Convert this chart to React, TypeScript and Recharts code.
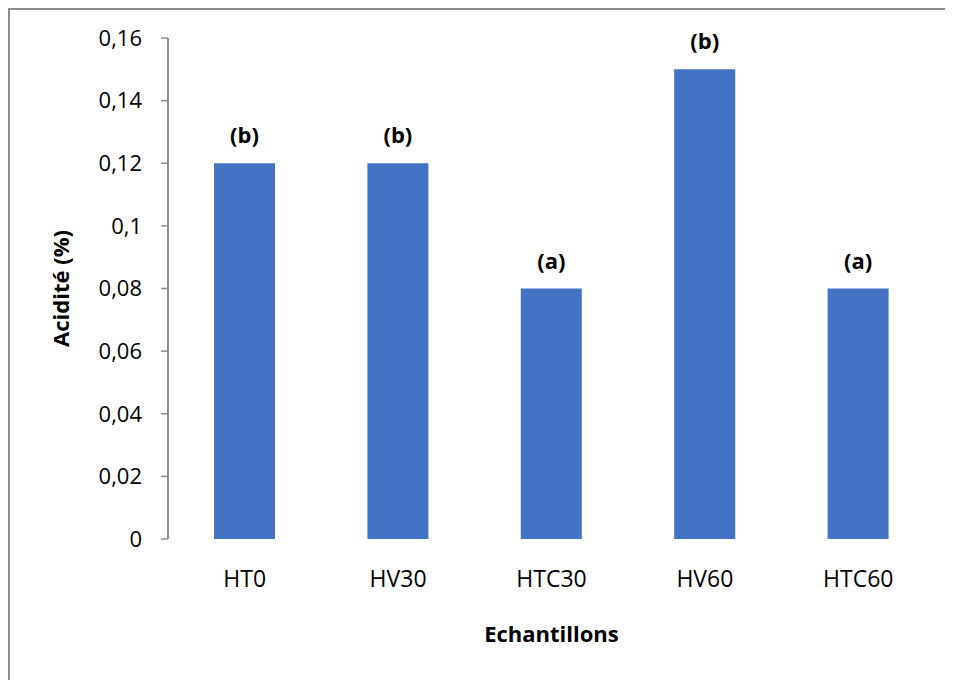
import React from "react";
import {
  BarChart,
  Bar,
  XAxis,
  YAxis,
  LabelList,
  Label,
} from "recharts";

const samples = ["HT0", "HV30", "HTC30", "HV60", "HTC60"];
const acidity = [0.12, 0.12, 0.08, 0.15, 0.08];
const groups = ["(b)", "(b)", "(a)", "(b)", "(a)"];
const yTicks = [0, 0.02, 0.04, 0.06, 0.08, 0.1, 0.12, 0.14, 0.16];
const bandEdges = [0, 1, 2, 3, 4, 5];

const data = samples.map((name, i) => ({
  name,
  acidity: acidity[i],
  group: groups[i],
}));

const font = "'Open Sans', 'Noto Sans', sans-serif";
const axisColor = "#8c8c8c";
const fmt = (v: number) => String(v).replace(".", ",");

const YTitle = (props: any) => {
  const { viewBox } = props;
  const cy = viewBox.y + viewBox.height / 2;
  const cx = 50;
  return (
    <text
      x={cx}
      y={cy}
      transform={`rotate(-90, ${cx}, ${cy})`}
      textAnchor="middle"
      dominantBaseline="central"
      fontFamily={font}
      fontWeight="bold"
      fontSize={22}
      fill="#000"
    >
      Acidité (%)
    </text>
  );
};

const XTitle = (props: any) => {
  const { viewBox } = props;
  const cx = viewBox.x + viewBox.width / 2;
  return (
    <text
      x={cx}
      y={viewBox.y + 103}
      textAnchor="middle"
      fontFamily={font}
      fontWeight="bold"
      fontSize={22}
      fill="#000"
    >
      Echantillons
    </text>
  );
};

export default function App() {
  return (
    <>
      <style>{`html,body{overflow:hidden;}`}</style>
      <div
        style={{
          width: 955,
          height: 690,
          border: `2px solid ${axisColor}`,
          background: "#fff",
        }}
      >
        <BarChart
          width={943}
          height={670}
          data={data}
          margin={{ top: 28, right: 18, left: 0, bottom: 0 }}
        >
          <XAxis
            xAxisId="edges"
            type="number"
            domain={[0, 5]}
            ticks={bandEdges}
            height={0}
            tick={false}
            tickSize={8}
            axisLine={{ stroke: axisColor, strokeWidth: 2 }}
            tickLine={{ stroke: axisColor, strokeWidth: 1.5 }}
          />
          <XAxis
            dataKey="name"
            height={141}
            axisLine={false}
            tickLine={false}
            tickSize={0}
            tickMargin={32}
            tick={{ fontFamily: font, fontSize: 23, fill: "#000" }}
          >
            <Label content={<XTitle />} />
          </XAxis>
          <YAxis
            width={158}
            domain={[0, 0.16]}
            ticks={yTicks}
            tickFormatter={fmt}
            tickSize={7}
            tickMargin={19}
            axisLine={{ stroke: axisColor, strokeWidth: 2 }}
            tickLine={{ stroke: axisColor, strokeWidth: 1.5 }}
            tick={{ fontFamily: font, fontSize: 22, fill: "#000" }}
          >
            <Label content={<YTitle />} />
          </YAxis>
          <Bar dataKey="acidity" fill="#4472C4" barSize={61} isAnimationActive={false}>
            <LabelList
              dataKey="group"
              position="top"
              offset={20}
              style={{ fontFamily: font, fontSize: 22, fontWeight: "bold", fill: "#000" }}
            />
          </Bar>
        </BarChart>
      </div>
    </>
  );
}
